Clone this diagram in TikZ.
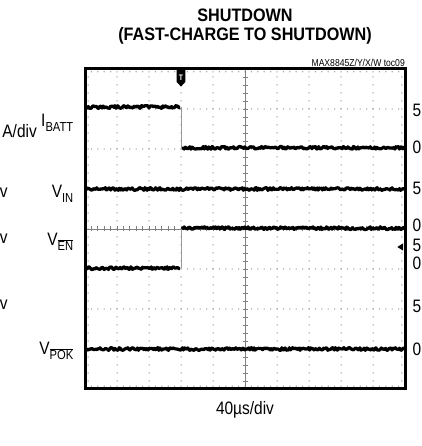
\documentclass[tikz,border=0pt]{standalone}
\usepackage{fontspec}
\setmainfont{Liberation Sans}[FakeStretch=0.86]
\newfontfamily\titlefont{Liberation Sans}[FakeStretch=0.9]
\usepackage{tikz}
\usetikzlibrary{calc}
\newcommand{\lowsub}[1]{\raisebox{-0.45ex}{\fontsize{13}{13}\selectfont #1}}
\newcommand{\barsub}[1]{\lowsub{$\overline{\hbox{#1}}$}}

\begin{document}
\begin{tikzpicture}[x=32pt, y=40pt,
  trace/.style={line width=3.2pt, line join=round},
  griddot/.style={gray!75},
  edgeline/.style={gray!80, line width=1pt},
  label/.style={font=\fontsize{18}{18}\selectfont, inner sep=0pt},
  heading/.style={font=\titlefont\bfseries\fontsize{18}{18}\selectfont, inner sep=0pt}]
\useasboundingbox (-2.65625,-1.425) rectangle (10.5,9.725);
\pgfmathsetseed{8845}
\foreach \i in {1,...,4,6,7,8,9} \foreach \k in {1,...,39} \fill[griddot] (\i,\k/5) circle[radius=0.75pt];
\foreach \j in {1,2,3,5,6,7} \foreach \k in {1,...,49} \fill[griddot] (\k/5,\j) circle[radius=0.75pt];
\foreach \k in {1,...,49} {
  \fill[griddot] (\k/5,0.07) circle[radius=0.75pt];
  \fill[griddot] (\k/5,7.93) circle[radius=0.75pt];
}
\foreach \k in {1,...,39} {
  \fill[griddot] (0.1,\k/5) circle[radius=0.75pt];
  \fill[griddot] (9.9,\k/5) circle[radius=0.75pt];
}
\draw[gray, line width=0.6pt] (5,0)--(5,8);
\draw[gray, line width=0.6pt] (0,4)--(10,4);
\foreach \k in {1,...,49} \draw[gray, line width=0.7pt] (\k/5,4) ++(0,-2.5pt) -- ++(0,5pt);
\foreach \k in {1,...,39} \draw[gray, line width=0.7pt] (5,\k/5) ++(-2.5pt,0) -- ++(5pt,0);
\draw[trace] plot[domain=0:2.97, samples=90] (\x,{7.05+0.035*rand});
\draw[edgeline] (3,7.05)--(3,6.03);
\draw[trace] plot[domain=3.03:10, samples=200] (\x,{6.03+0.035*rand});
\draw[trace] plot[domain=0:10, samples=300] (\x,{5+0.035*rand});
\draw[trace] plot[domain=0:2.97, samples=90] (\x,{3.02+0.035*rand});
\draw[edgeline] (3,3.02)--(3,4.02);
\draw[trace] plot[domain=3.03:10, samples=200] (\x,{4.02+0.035*rand});
\draw[trace] plot[domain=0:10, samples=300] (\x,{1+0.035*rand});
\draw[line width=3pt] (0,0) rectangle (10,8);
\fill (2.86,8)--(3.14,8)--(3.14,7.68)--(3,7.56)--(2.86,7.68)--cycle;
\path (3,7.77) node[text=white, inner sep=0pt, font=\bfseries\fontsize{8}{8}\selectfont] (trig) {T};
\fill (9.94,3.46)--(9.94,3.64)--(9.76,3.55)--cycle;
\path
(5,9.33) node[heading] (title) {SHUTDOWN};
\path
(5,8.82) node[heading] (subtitle) {(FAST-CHARGE TO SHUTDOWN)};
\path
(10,8.05) node[anchor=base east, inner sep=0pt, font=\fontsize{10}{10}\selectfont] (toc) {MAX8845Z/Y/X/W toc09};
\path (-0.36,6.55) node[label, anchor=base east] (ibatt) {I\lowsub{BATT}};
\path (-1.5,6.275) node[label, anchor=base east] (ibattdiv) {A/div};
\path (-0.36,4.775) node[label, anchor=base east] (vin) {V\lowsub{IN}};
\path (-2.41,4.775) node[label, anchor=base east] (vindiv) {v};
\path (-0.36,3.575) node[label, anchor=base east] (ven) {V\barsub{EN}};
\path (-2.41,3.625) node[label, anchor=base east] (vendiv) {v};
\path (-2.41,1.975) node[label, anchor=base east] (vpokdiv) {v};
\path (-0.36,0.85) node[label, anchor=base east] (vpok) {V\barsub{POK}};
\foreach \y/\t [count=\n] in {6.975/5, 6.05/0, 5.025/5, 4.1/0, 3.6/5, 3.15/0, 2.075/5, 1.0/0}
  \path (10.375,\y) node[label] (level\n) {\t};
\path
(5,-0.525) node[label] (timebase) {40µs/div};
\end{tikzpicture}
\end{document}
